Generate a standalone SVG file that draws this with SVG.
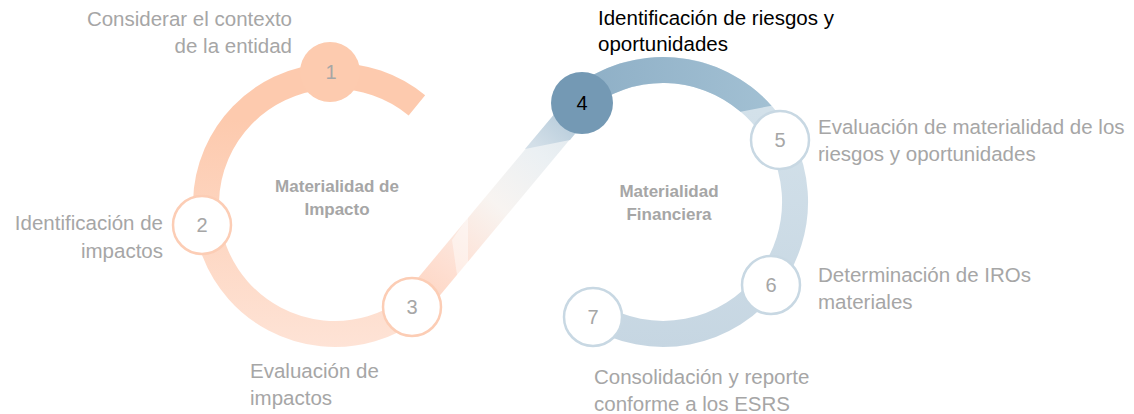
<svg xmlns="http://www.w3.org/2000/svg" width="1134" height="414" viewBox="0 0 1134 414">
  <defs>
    <linearGradient id="gPeach" gradientUnits="userSpaceOnUse" x1="0" y1="120" x2="0" y2="347">
      <stop offset="0" stop-color="#FDCAAE"/>
      <stop offset="1" stop-color="#FEE3D6"/>
    </linearGradient>
    <linearGradient id="gDark" gradientUnits="userSpaceOnUse" x1="580" y1="0" x2="770" y2="0">
      <stop offset="0" stop-color="#8EAFC6"/>
      <stop offset="1" stop-color="#A2C0D3"/>
    </linearGradient>
    <linearGradient id="gLight" gradientUnits="userSpaceOnUse" x1="0" y1="110" x2="0" y2="348">
      <stop offset="0" stop-color="#D3E1EA"/>
      <stop offset="1" stop-color="#C6D6E2"/>
    </linearGradient>
    <linearGradient id="gLink" gradientUnits="userSpaceOnUse" x1="412" y1="307" x2="582" y2="103">
      <stop offset="0" stop-color="#FDD3BF"/>
      <stop offset="0.2" stop-color="#FEDFD2"/>
      <stop offset="0.5" stop-color="#F8F4F1"/>
      <stop offset="0.75" stop-color="#EBF0F3"/>
      <stop offset="1" stop-color="#DDE6EC"/>
    </linearGradient>
    <linearGradient id="gLinkTop" gradientUnits="userSpaceOnUse" x1="540" y1="150" x2="585" y2="100">
      <stop offset="0" stop-color="#D3DFE8"/>
      <stop offset="1" stop-color="#A8C2D4"/>
    </linearGradient>
  </defs>
  <style>
    .lbl { font-family: "Liberation Sans", Arial, sans-serif; font-size: 20.5px; fill: #A6A6A6; }
    .ttl { font-family: "Liberation Sans", Arial, sans-serif; font-size: 17px; font-weight: bold; fill: #A6A6A6; text-anchor: middle; }
    .num { font-family: "Liberation Sans", Arial, sans-serif; font-size: 20px; fill: #A6A6A6; text-anchor: middle; }
    .lbl.dark, .num.dark { fill: #000000; }
    .nodeP { fill: #FFFFFF; stroke: #FCCDB5; stroke-width: 2.5; }
    .nodeB { fill: #FFFFFF; stroke: #C8D8E3; stroke-width: 2.5; }
  </style>

  <g id="connectors">
    <path d="M416.9,105.4 A129,129 0 1 0 412.6,308" fill="none" stroke="url(#gPeach)" stroke-width="26"/>
    <path d="M579.4,99.8 A132,132 0 1 1 595,315" fill="none" stroke="url(#gLight)" stroke-width="26"/>
    <path d="M571.2,89.8 A145,145 0 0 1 771.5,105.7 L740.5,111.7 A119,119 0 0 0 587.7,109.9 Z" fill="url(#gDark)"/>
    <line x1="412" y1="307" x2="582" y2="103" stroke="url(#gLink)" stroke-width="28"/>
    <polygon points="525,149 570,140 592.8,112 571.2,94" fill="url(#gLinkTop)"/>
    <polygon points="452,240 468,217 468,270 458,282" fill="#FFFFFF" opacity="0.45"/>
  </g>

  <g id="title-impacto">
    <text class="ttl" x="337" y="192">Materialidad de</text>
    <text class="ttl" x="337" y="215">Impacto</text>
  </g>
  <g id="title-financiera">
    <text class="ttl" x="669" y="197">Materialidad</text>
    <text class="ttl" x="669" y="220">Financiera</text>
  </g>

  <g id="node1">
    <circle cx="330" cy="72" r="30" fill="#FDCBAF"/>
    <text class="num" x="331" y="79">1</text>
    <text class="lbl" text-anchor="end" x="292" y="26">Considerar el contexto</text>
    <text class="lbl" text-anchor="end" x="292" y="53">de la entidad</text>
  </g>
  <g id="node2">
    <circle class="nodeP" cx="202" cy="225" r="29"/>
    <text class="num" x="202" y="232">2</text>
    <text class="lbl" text-anchor="end" x="163" y="230">Identificación de</text>
    <text class="lbl" text-anchor="end" x="163" y="258">impactos</text>
  </g>
  <g id="node3">
    <circle class="nodeP" cx="412" cy="307" r="29"/>
    <text class="num" x="412" y="314">3</text>
    <text class="lbl" x="250" y="378">Evaluación de</text>
    <text class="lbl" x="250" y="405">impactos</text>
  </g>
  <g id="node4">
    <circle cx="582" cy="103" r="31" fill="#7499B4"/>
    <text class="num dark" x="582" y="110">4</text>
    <text class="lbl dark" x="598" y="25">Identificación de riesgos y</text>
    <text class="lbl dark" x="598" y="51">oportunidades</text>
  </g>
  <g id="node5">
    <circle class="nodeB" cx="780" cy="140" r="29"/>
    <text class="num" x="780" y="147">5</text>
    <text class="lbl" x="818" y="134">Evaluación de materialidad de los</text>
    <text class="lbl" x="818" y="161">riesgos y oportunidades</text>
  </g>
  <g id="node6">
    <circle class="nodeB" cx="771" cy="285" r="29"/>
    <text class="num" x="771" y="292">6</text>
    <text class="lbl" x="818" y="282">Determinación de IROs</text>
    <text class="lbl" x="818" y="309">materiales</text>
  </g>
  <g id="node7">
    <circle class="nodeB" cx="593" cy="317" r="29"/>
    <text class="num" x="593" y="324">7</text>
    <text class="lbl" x="594" y="384">Consolidación y reporte</text>
    <text class="lbl" x="594" y="411">conforme a los ESRS</text>
  </g>
</svg>
